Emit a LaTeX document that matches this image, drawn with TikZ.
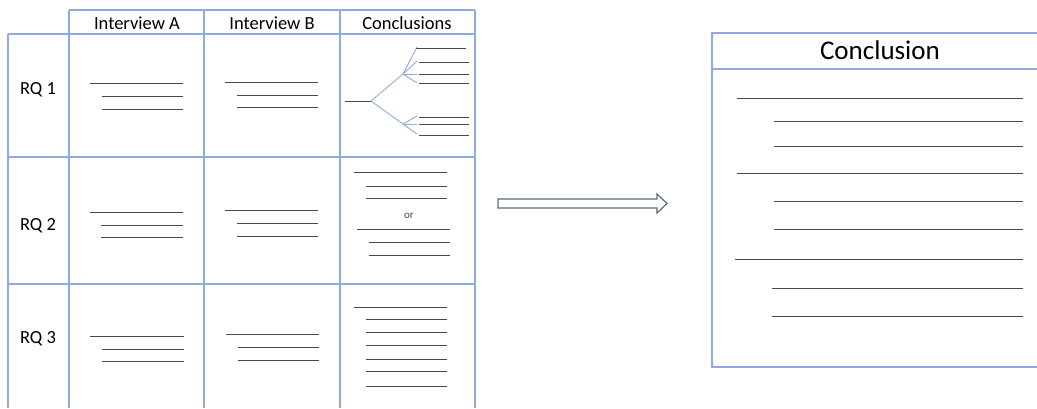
\documentclass[tikz,border=0pt]{standalone}
\usepackage{fontspec}
\setmainfont{Carlito}
\definecolor{gridblue}{HTML}{8FAADC}
\definecolor{arrowgray}{HTML}{5B6A80}
\definecolor{inkline}{HTML}{4A4A4A}
\begin{document}
\begin{tikzpicture}[x=1pt,y=-1pt,
  grid/.style={draw=gridblue,line width=1.4pt},
  thickgrid/.style={draw=gridblue,line width=2.2pt},
  textline/.style={draw=inkline,line width=0.95pt},
  branch/.style={draw=gridblue,line width=0.9pt},
  headlabel/.style={font=\fontsize{18.5}{20}\selectfont,inner sep=0pt,anchor=base},
  titlelabel/.style={font=\fontsize{27}{29}\selectfont,inner sep=0pt,anchor=base},
  smalllabel/.style={font=\fontsize{11}{12}\selectfont,text=inkline,inner sep=0pt,anchor=base},
  bigarrow/.style={draw=arrowgray,fill=white,line width=1.2pt,line join=miter},
]
\useasboundingbox (0,0) rectangle (1037,408);

% ---------- table grid ----------
\draw[grid] (69,10) -- (475,10);
\draw[grid] (8,34) -- (475,34);
\draw[grid] (8,157) -- (475,157);
\draw[grid] (8,284) -- (475,284);
\draw[grid] (8,34) -- (8,408);
\draw[thickgrid] (69,10) -- (69,408);
\draw[grid] (204,10) -- (204,408);
\draw[grid] (340,10) -- (340,408);
\draw[grid] (475,10) -- (475,408);

% ---------- headers ----------
\node[headlabel] (hA) at (137,29) {Interview A};
\node[headlabel] (hB) at (272,29) {Interview B};
\node[headlabel] (hC) at (407,29) {Conclusions};
\node[headlabel] (rq1) at (38,94.5) {RQ 1};
\node[headlabel] (rq2) at (38,230) {RQ 2};
\node[headlabel] (rq3) at (38,343) {RQ 3};

% ---------- interview notes (three lines each) ----------
\foreach \xa/\xb/\xe/\ya/\yb/\yc in {
  90/102/183/83/96/109,
  225/237/318/82/95/107,
  90/101/183/212/225/237,
  225/237/318/210/223/236,
  90/102/184/336/349/361,
  226/238/319/334/347/360}{
  \draw[textline] (\xa,\ya) -- (\xe,\ya);
  \draw[textline] (\xb,\yb) -- (\xe,\yb);
  \draw[textline] (\xb,\yc) -- (\xe,\yc);
}

% ---------- RQ 1 conclusions: branching ----------
\coordinate (stubL) at (345,101);
\coordinate (fork) at (371,101);
\coordinate (upper) at (403,74);
\coordinate (lower) at (403,124);
\draw[textline] (stubL) -- (fork);
\draw[branch] (fork) -- (upper);
\draw[branch] (fork) -- (lower);
\foreach \y in {47,61,74,83}{ \draw[branch] (upper) -- (417,\y); }
\foreach \y in {116,124,134}{ \draw[branch] (lower) -- (417,\y); }
\draw[textline] (416,48) -- (466,48);
\foreach \y in {62,74,83,117,124,135}{ \draw[textline] (419,\y) -- (469,\y); }

% ---------- RQ 2 conclusions: alternatives ----------
\draw[textline] (354,172) -- (447,172);
\draw[textline] (366,186) -- (447,186);
\draw[textline] (366,198) -- (447,198);
\node[smalllabel] (orlabel) at (409,218) {or};
\draw[textline] (357,229) -- (450,229);
\draw[textline] (369,242) -- (450,242);
\draw[textline] (369,255) -- (450,255);

% ---------- RQ 3 conclusions: list ----------
\draw[textline] (354,307) -- (447,307);
\foreach \y in {319,332,345,359,371,386}{ \draw[textline] (366,\y) -- (447,\y); }

% ---------- transition arrow ----------
\draw[bigarrow] (498,199) -- (657,199) -- (657,194) -- (667,203.5)
  -- (657,213) -- (657,208) -- (498,208) -- cycle;

% ---------- conclusion panel ----------
\draw[grid] (1037,33) -- (712,33) -- (712,367) -- (1037,367);
\draw[grid] (712,69) -- (1037,69);
\node[titlelabel] (title) at (880,59) {Conclusion};
\foreach \xa/\y in {737/98,774/121,774/146,737/173,774/201,774/229,735/259,772/288,772/316}{
  \draw[textline] (\xa,\y) -- (1023,\y);
}
\end{tikzpicture}
\end{document}
